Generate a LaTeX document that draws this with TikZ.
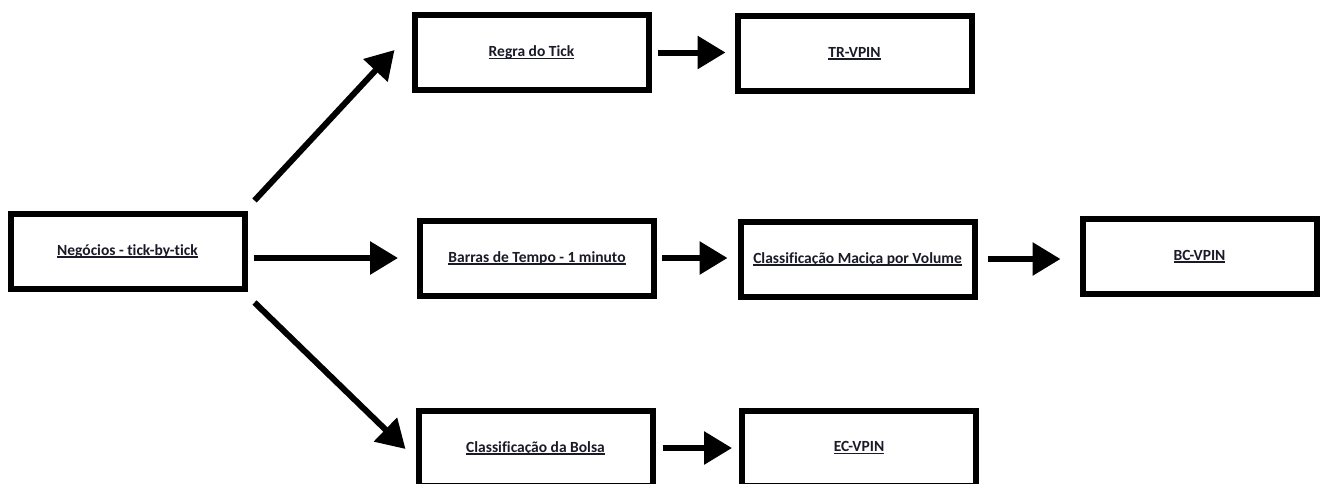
\documentclass[tikz,border=0pt]{standalone}
\usepackage{fontspec}
\setmainfont[Ligatures={NoCommon}]{Carlito}
\usetikzlibrary{arrows.meta}
\definecolor{txt}{RGB}{26,26,40}
\newcommand\ulx[1]{\setbox0\hbox{#1}\rlap{\rule[-2.6pt]{\wd0}{1.4pt}}\box0}
\tikzset{
  x=1pt, y=-1pt,
  boxnode/.style={draw=black, line width=6pt, fill=white, minimum width=234pt, minimum height=75pt,
    inner sep=0pt, text=txt, font=\fontsize{15.5}{18}\selectfont\bfseries},
  flow/.style={line width=6pt, -{Triangle[length=28pt,width=32pt]}}
}
\begin{document}
\begin{tikzpicture}
\useasboundingbox (0,0) rectangle (1324,483);
\node[boxnode] (N)  at (127.5,251)  {\ulx{Negócios - tick-by-tick}};
\node[boxnode] (R)  at (531.5,52.5) {\ulx{Regra do Tick}};
\node[boxnode] (TR) at (854.5,53.5) {\ulx{TR-VPIN}};
\node[boxnode] (B)  at (537,258)    {\ulx{Barras de Tempo - 1 minuto}};
\node[boxnode] (C)  at (857.5,259)  {\ulx{Classificação Maciça por Volume}};
\node[boxnode] (BC) at (1199.5,256.5) {\ulx{BC-VPIN}};
\node[boxnode] (S)  at (535.5,448)  {\ulx{Classificação da Bolsa}};
\node[boxnode] (EC) at (859,448)    {\ulx{EC-VPIN}};
\coordinate (u1) at ([shift={(7,-10)}]N.north east);
\coordinate (u2) at ([shift={(-17,-2.5)}]R.west);
\coordinate (d1) at ([shift={(7,11)}]N.south east);
\coordinate (d2) at ([shift={(-10,1)}]S.west);
\draw[flow] (u1) -- (u2);
\draw[flow] (d1) -- (d2);
\draw[flow, shorten <=6pt, shorten >=19pt] (N.east |- B.west) -- (B.west);
\draw[flow, shorten <=6pt, shorten >=9pt] (R.east) -- (R.east -| TR.west);
\draw[flow, shorten <=5pt, shorten >=10pt] (B.east) -- (B.east -| C.west);
\draw[flow, shorten <=10pt, shorten >=19pt] (C.east) -- (C.east -| BC.west);
\draw[flow, shorten <=7pt, shorten >=7pt] (S.east) -- (EC.west);
\end{tikzpicture}
\end{document}
